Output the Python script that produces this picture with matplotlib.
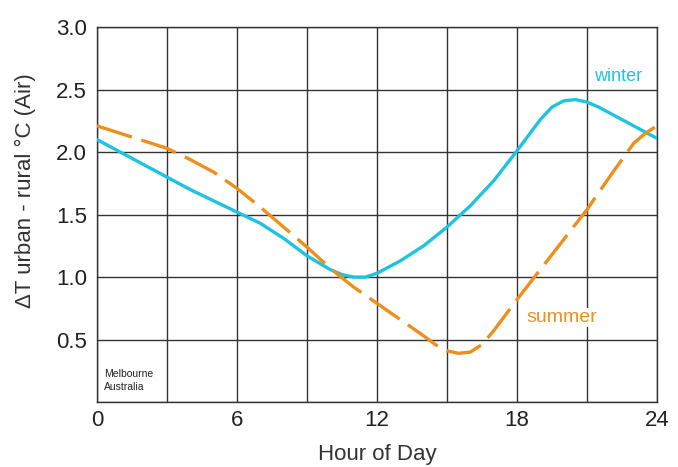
import matplotlib
matplotlib.use("Agg")
import matplotlib.pyplot as plt

plt.rcParams["font.family"] = ["Liberation Sans", "DejaVu Sans"]

# hourly values (half hours near the turning points)
hours_w = [0, 1, 2, 3, 4, 5, 6, 7, 8, 9, 10, 10.5, 11, 11.5, 12, 13, 14, 15, 16, 17, 18,
           19, 19.5, 20, 20.5, 21, 21.5, 22, 23, 24]
winter = [2.10, 2.00, 1.90, 1.80, 1.70, 1.61, 1.52, 1.43, 1.31, 1.17, 1.06, 1.02, 1.00, 1.00,
          1.03, 1.13, 1.25, 1.40, 1.57, 1.77, 2.01, 2.26, 2.36, 2.41, 2.42, 2.40, 2.36, 2.31,
          2.21, 2.11]
hours_s = [0, 1, 2, 3, 4, 5, 6, 7, 8, 9, 10, 11, 12, 13, 14, 14.5, 15, 15.5, 16, 16.5, 17,
           18, 19, 20, 21, 22, 23, 23.5, 24]
summer = [2.21, 2.15, 2.09, 2.03, 1.94, 1.84, 1.71, 1.56, 1.40, 1.24, 1.07, 0.92, 0.79, 0.66,
          0.53, 0.46, 0.41, 0.39, 0.40, 0.46, 0.57, 0.82, 1.06, 1.30, 1.54, 1.81, 2.07, 2.15,
          2.21]

x_ticks = [0, 6, 12, 18, 24]
y_ticks = [0.5, 1.0, 1.5, 2.0, 2.5, 3.0]

cyan = "#1ec3e0"
orange = "#ee8f1c"
ink = "#222222"

fig = plt.figure(figsize=(6.78, 4.67), dpi=100)
ax = fig.add_axes([0.143, 0.139, 0.826, 0.803])

ax.set_xlim(0, 24)
ax.set_ylim(0, 3.0)
grid_x = list(range(0, 25, 3))
grid_y = [0, 0.5, 1.0, 1.5, 2.0, 2.5, 3.0]
ax.set_xticks(grid_x)
ax.set_yticks(grid_y)
ax.grid(True, color="#333333", linewidth=1.0)
ax.set_xticklabels([str(h) if h in x_ticks else "" for h in grid_x])
ax.set_yticklabels([f"{v:.1f}" if v in y_ticks else "" for v in grid_y])
ax.tick_params(length=0, labelsize=16, labelcolor=ink)
ax.tick_params(axis="y", pad=7)
ax.tick_params(axis="x", pad=6)
for s in ax.spines.values():
    s.set_color("#333333")
    s.set_linewidth(1.0)

ax.plot(hours_w, winter, color=cyan, lw=2.4, solid_capstyle="round", zorder=3)
ax.plot(hours_s, summer, color=orange, lw=2.4, dashes=(11, 3), zorder=3)

ax.text(21.3, 2.57, "winter", color=cyan, fontsize=13, zorder=4)
ax.text(18.4, 0.64, "summer", color=orange, fontsize=14, zorder=4,
        bbox=dict(facecolor="white", edgecolor="none", pad=1))
ax.text(0.3, 0.1, "Melbourne\nAustralia", color=ink, fontsize=7.5, linespacing=1.3)

ax.set_xlabel("Hour of Day", fontsize=16, color="#333333")
ax.xaxis.set_label_coords(0.5, -0.112)
ax.set_ylabel("ΔT urban - rural °C (Air)", fontsize=16, color="#333333")
ax.yaxis.set_label_coords(-0.109, 0.565)

fig.savefig("out.png", dpi=100)
